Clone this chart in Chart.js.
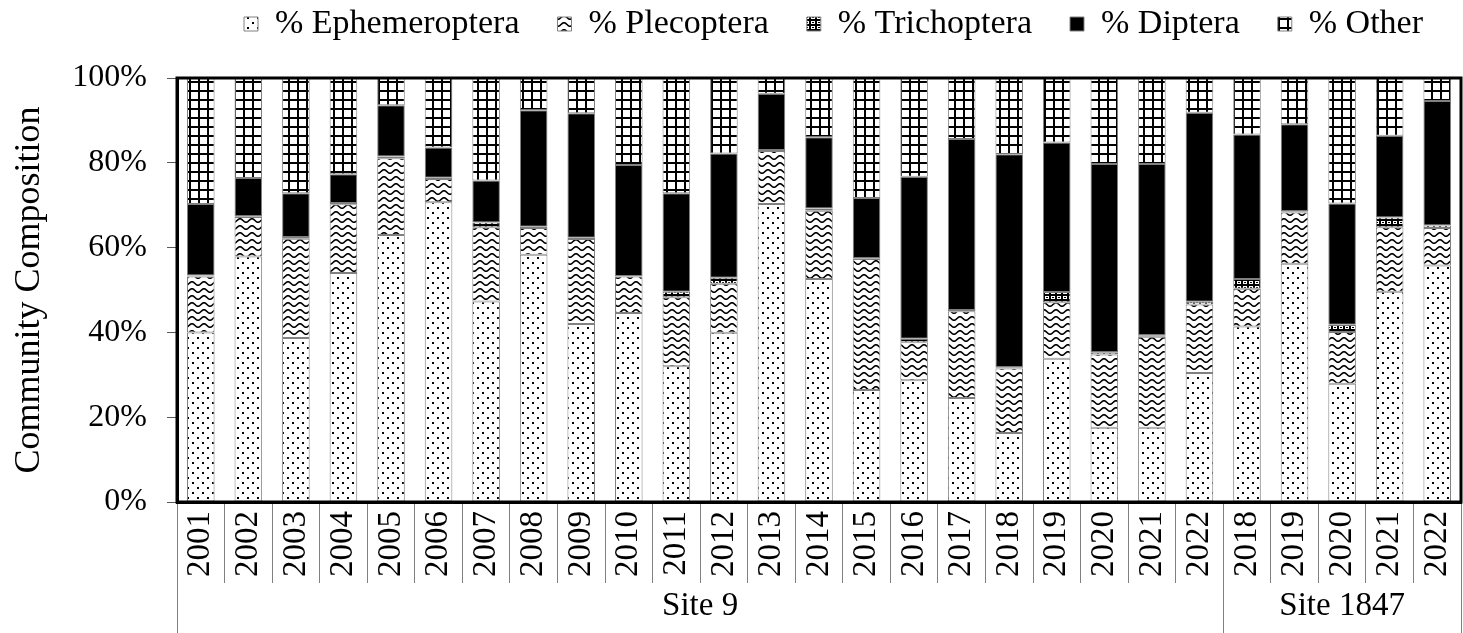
<!DOCTYPE html>
<html>
<head>
<meta charset="utf-8">
<title>Community Composition</title>
<script src="https://cdn.jsdelivr.net/npm/chart.js@4.4.1/dist/chart.umd.min.js"></script>
<style>
  body { margin: 0; background: #fff; }
  #wrap { width: 1463px; height: 633px; }
</style>
</head>
<body>
<div id="wrap"><canvas id="compChart" width="1463" height="633"></canvas></div>
<script>
const years = ["2001", "2002", "2003", "2004", "2005", "2006", "2007", "2008", "2009", "2010", "2011",
    "2012", "2013", "2014", "2015", "2016", "2017", "2018", "2019", "2020", "2021", "2022",
    "2018", "2019", "2020", "2021", "2022"];
const groups = ["Site 9", "Site 1847"];
const groupSizes = [22, 5];

// percent of each sample
const ephemeroptera = [40.0, 57.9, 38.7, 54.0, 63.0, 70.7, 47.3, 58.3, 42.0, 44.6, 32.0, 39.9, 70.3, 52.6,
    26.4, 28.7, 24.5, 16.3, 33.8, 17.5, 17.5, 30.4, 41.4, 56.2, 27.9, 49.6, 55.8];
const plecoptera = [13.2, 9.3, 23.4, 16.2, 18.1, 5.5, 17.5, 6.3, 20.0, 8.6, 16.3, 11.6, 12.5, 16.1,
    30.9, 9.0, 20.5, 15.2, 13.3, 17.3, 21.5, 16.2, 8.9, 12.1, 12.2, 15.2, 8.8];
const trichoptera = [0.2, 0.2, 0.4, 0.3, 0.4, 0.3, 1.1, 0.3, 0.3, 0.1, 1.3, 1.4, 0.2, 0.5,
    0.2, 0.8, 0.3, 0.3, 2.4, 0.5, 0.3, 0.6, 2.3, 0.3, 1.7, 2.3, 0.6];
const diptera = [16.9, 9.0, 10.3, 6.8, 12.1, 7.1, 9.9, 27.5, 29.4, 26.2, 23.2, 29.3, 13.3, 16.8,
    14.2, 38.2, 40.3, 50.2, 35.3, 44.4, 40.4, 44.6, 34.1, 20.5, 28.6, 19.3, 29.4];
const other = [29.7, 23.6, 27.2, 22.7, 6.4, 16.4, 24.2, 7.6, 8.3, 20.5, 27.2, 17.8, 3.7, 14.0,
    28.3, 23.3, 14.4, 18.0, 15.2, 20.3, 20.3, 8.2, 13.3, 10.9, 29.6, 13.6, 5.4];
const yTicks = [0, 20, 40, 60, 80, 100];

const serif = '"Liberation Serif", "Times New Roman", Times, serif';
Chart.defaults.font.family = serif;
Chart.defaults.color = "#000";

// small black & white fill patterns, like the office chart
function makePattern(w, h, draw) {
    const c = document.createElement("canvas");
    c.width = w;
    c.height = h;
    const g = c.getContext("2d");
    g.fillStyle = "#fff";
    g.fillRect(0, 0, w, h);
    g.fillStyle = "#000";
    g.strokeStyle = "#000";
    draw(g);
    return g.createPattern(c, "repeat");
}

const dots = makePattern(10, 10, g => {
    g.fillRect(2, 2, 2, 2);
    g.fillRect(7, 7, 2, 2);
});
const waves = makePattern(12, 7, g => {
    g.lineWidth = 1.6;
    g.beginPath();
    for (let x = -1; x <= 13; x += 0.5) {
        const y = 3.5 - 1.7 * Math.cos(2 * Math.PI * x / 12);
        if (x === -1) g.moveTo(x, y); else g.lineTo(x, y);
    }
    g.stroke();
});
const fineDots = makePattern(6, 5, g => {
    g.fillRect(0, 0, 6, 5);
    g.fillStyle = "#fff";
    g.fillRect(1, 1, 4, 3);
    g.fillStyle = "#000";
    g.fillRect(2, 2, 2, 1);
});
const grid = makePattern(9, 9, g => {
    g.fillRect(0, 0, 9, 9);
    g.fillStyle = "#fff";
    g.fillRect(2, 2, 7, 7);
});

// site axis uses half-category slots: edges between groups and the centre of each group
const siteSlots = new Array(years.length * 2 + 1).fill("");
const siteEdges = [0];
let slot = 0;
groupSizes.forEach((n, i) => {
    siteSlots[slot + n] = groups[i];
    slot += 2 * n;
    siteEdges.push(slot);
});

function series(label, data, fill) {
    return {
        label: label,
        data: data,
        backgroundColor: fill,
        borderColor: "#808080",
        borderWidth: 1,
        borderSkipped: false
    };
}

const frameAndLegend = {
    id: "frameAndLegend",
    afterLayout(chart) {
        const lg = chart.legend;
        lg.left = chart.chartArea.left + 29;
        lg.right = lg.left + chart.width;
        lg.top = -31;
    },
    afterDatasetsDraw(chart) {
        const { ctx, chartArea: a } = chart;
        ctx.save();
        ctx.strokeStyle = "#000";
        ctx.lineWidth = 3;
        ctx.strokeRect(a.left, a.top, a.right - a.left, a.bottom - a.top);
        ctx.restore();
    }
};

new Chart(document.getElementById("compChart"), {
    type: "bar",
    data: {
        labels: years,
        datasets: [
            series("% Ephemeroptera", ephemeroptera, dots),
            series("% Plecoptera", plecoptera, waves),
            series("% Trichoptera", trichoptera, fineDots),
            series("% Diptera", diptera, "#000"),
            series("% Other", other, grid)
        ]
    },
    options: {
        responsive: false,
        animation: false,
        devicePixelRatio: 1,
        layout: { padding: { right: 2 } },
        datasets: { bar: { barPercentage: 0.58, categoryPercentage: 1.0 } },
        scales: {
            x: {
                stacked: true,
                weight: 0,
                border: { display: true, color: "#000", width: 3 },
                grid: { drawOnChartArea: false, offset: true, tickLength: 81, color: "#808080", lineWidth: 1 },
                ticks: { autoSkip: false, minRotation: 90, maxRotation: 90, padding: -72, font: { size: 33 } },
                afterFit: s => { s.height = 81; s.paddingLeft = 0; s.paddingRight = 0; }
            },
            x2: {
                type: "category",
                labels: siteSlots,
                position: "bottom",
                weight: 1,
                offset: false,
                min: 0,
                max: siteSlots.length - 1,
                border: { display: false, color: "rgba(0,0,0,0)" },
                grid: {
                    offset: false,
                    drawOnChartArea: false,
                    tickLength: 50,
                    lineWidth: 1,
                    color: ctx => siteEdges.includes(ctx.index) ? "#808080" : "rgba(0,0,0,0)"
                },
                ticks: { autoSkip: false, minRotation: 0, maxRotation: 0, padding: -46, font: { size: 33 } },
                afterFit: s => { s.height = 50; s.paddingLeft = 0; s.paddingRight = 0; }
            },
            y: {
                stacked: true,
                min: 0,
                max: 100,
                border: { display: true, color: "#000", width: 3 },
                grid: { drawOnChartArea: false, tickLength: 10, color: "#595959" },
                afterBuildTicks: s => { s.ticks = yTicks.map(v => ({ value: v })); },
                ticks: { padding: 20, font: { size: 32 }, callback: v => v + "%" },
                title: {
                    display: true,
                    text: "Community Composition",
                    font: { size: 36 },
                    padding: { top: 8, bottom: 0 }
                },
                afterFit: s => { s.width = 177; }
            }
        },
        plugins: {
            legend: {
                position: "top",
                align: "start",
                maxHeight: 78,
                labels: { boxWidth: 14, boxHeight: 14, padding: 38, font: { size: 34 } }
            },
            tooltip: { enabled: false }
        }
    },
    plugins: [frameAndLegend]
});
</script>
</body>
</html>
